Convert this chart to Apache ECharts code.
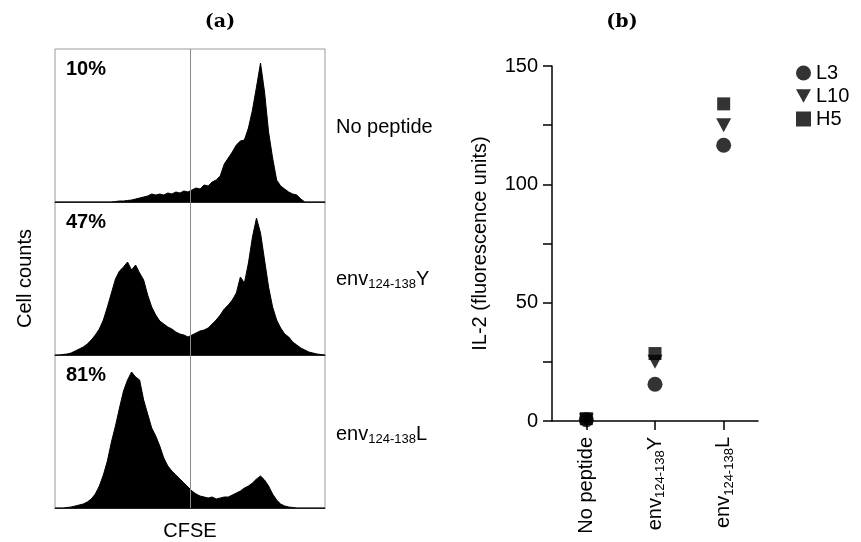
<!DOCTYPE html>
<html>
<head>
<meta charset="utf-8">
<script src="https://cdn.jsdelivr.net/npm/echarts@6/dist/echarts.min.js"></script>
<style>
  html, body { margin: 0; padding: 0; background: #fff; }
  #chart { width: 861px; height: 542px; }
</style>
</head>
<body>
<div id="chart"></div>
<script>
// (a) CFSE histograms, 68 bins across the plot, counts in arbitrary units
const noPeptide = [0,0,0,0,0,0,0,0,0,0,0,0,0,0,0,0.5,1,1,1.5,2,3,4,5,6,8,7,8,7,9,8,10,9,11,10,12,14,13,17,16,20,22,26,38,44,50,57,61,62,74,92,115,139,110,70,44,22,16,13,10,8,7,3,0,0,0,0,0,0];
const envY = [0,0,0.5,1,2,4,6,8,11,15,20,26,35,48,62,76,84,88,93,85,90,82,75,60,48,40,34,31,28,26,23,21,20,18,20,22,24,25,27,31,35,40,46,50,55,62,78,72,92,118,137,122,95,68,48,35,27,21,18,13,10,7,5,3,2,1,0.5,0];
const envL = [0,0,0,0.5,1,2,3,4,6,9,14,22,33,47,66,82,100,117,128,136,131,128,108,94,80,72,62,50,42,37,33,29,25,21,17,14,12,11,10,11,9,10,11,11,13,15,17,20,22,25,29,32,28,22,14,8,4,2,1,0.5,0,0,0,0,0,0,0,0];
const histNames = ['No peptide', 'env124-138Y', 'env124-138L'];
const histPct = ['10%', '47%', '81%'];

// (b) IL-2 response
const peptides = ['No peptide', 'env124-138Y', 'env124-138L'];
const l3 = [0.5, 15.5, 116.5];
const l10 = [0.3, 25, 125];
const h5 = [1, 28.5, 134];
const yTicks = [0, 50, 100, 150];

const chart = echarts.init(document.getElementById('chart'));
const font = 'Liberation Sans';

function richLabel(s) {
  if (s.indexOf('env') === 0) {
    return '{b|env}{s|124-138}{b|' + s.slice(-1) + '}';
  }
  return '{b|' + s + '}';
}
const rich = {
  b: { fontSize: 20, lineHeight: 24, color: '#000', fontFamily: font },
  s: { fontSize: 13, lineHeight: 13, verticalAlign: 'bottom', color: '#000', fontFamily: font }
};

const histData = [noPeptide, envY, envL];
const grids = [];
const xAxes = [];
const yAxes = [];
const series = [];
histData.forEach((arr, i) => {
  grids.push({ left: 55, top: 49 + i * 153, width: 270, height: 153, show: true, borderColor: '#9a9a9a', borderWidth: 1 });
  xAxes.push({
    type: 'value', gridIndex: i, min: 0, max: arr.length - 1,
    axisLine: { show: true, lineStyle: { color: '#222', width: 1 } },
    axisTick: { show: false }, axisLabel: { show: false }, splitLine: { show: false },
    name: i === 2 ? 'CFSE' : '', nameLocation: 'middle', nameGap: 13,
    nameTextStyle: { fontSize: 20, color: '#000', fontFamily: font }
  });
  yAxes.push({
    type: 'value', gridIndex: i, min: 0, max: 153,
    axisLine: { show: false }, axisTick: { show: false }, axisLabel: { show: false }, splitLine: { show: false },
    name: i === 1 ? 'Cell counts' : '', nameLocation: 'middle', nameGap: 20,
    nameTextStyle: { fontSize: 20, color: '#000', fontFamily: font }
  });
  series.push({
    type: 'line', xAxisIndex: i, yAxisIndex: i,
    data: arr.map((v, k) => [k, v]),
    symbol: 'none',
    lineStyle: { color: '#000', width: 1 },
    areaStyle: { color: '#000', opacity: 1 },
    markLine: {
      silent: true, symbol: ['none', 'none'], label: { show: false },
      lineStyle: { color: '#8a8a8a', type: 'solid', width: 1 },
      data: [{ xAxis: (arr.length - 1) / 2 }]
    }
  });
});

grids.push({ left: 552, top: 66, width: 206, height: 355 });
xAxes.push({
  type: 'category', gridIndex: 3, data: peptides,
  axisLine: { show: true, lineStyle: { color: '#000', width: 1.5 } },
  axisTick: { show: true, alignWithLabel: true, length: 9, lineStyle: { color: '#000', width: 1.5 } },
  axisLabel: { rotate: 90, margin: 16, formatter: richLabel, rich: rich }
});
yAxes.push({
  type: 'value', gridIndex: 3, min: 0, max: 150, interval: 25,
  axisLine: { show: true, lineStyle: { color: '#000', width: 1.5 } },
  axisTick: { show: true, length: 9, lineStyle: { color: '#000', width: 1.5 } },
  axisLabel: {
    fontSize: 20, color: '#000', fontFamily: font, margin: 14,
    formatter: v => (yTicks.indexOf(v) >= 0 ? String(v) : '')
  },
  splitLine: { show: false },
  name: 'IL-2 (fluorescence units)', nameLocation: 'middle', nameGap: 62,
  nameTextStyle: { fontSize: 20, color: '#000', fontFamily: font }
});

const triDown = 'path://M0,0 L10,0 L5,9 Z';
series.push(
  { name: 'L3', type: 'scatter', xAxisIndex: 3, yAxisIndex: 3, data: l3, symbol: 'circle', symbolSize: 15, itemStyle: { color: '#000' } },
  { name: 'L10', type: 'scatter', xAxisIndex: 3, yAxisIndex: 3, data: l10, symbol: triDown, symbolSize: [15, 14], itemStyle: { color: '#000' } },
  { name: 'H5', type: 'scatter', xAxisIndex: 3, yAxisIndex: 3, data: h5, symbol: 'rect', symbolSize: 13, itemStyle: { color: '#000' } }
);

const graphics = [
  { type: 'text', x: 220, y: 22, style: { text: '(a)', font: 'bold 19px "DejaVu Serif"', fill: '#000', textAlign: 'center', textVerticalAlign: 'middle' } },
  { type: 'text', x: 622, y: 22, style: { text: '(b)', font: 'bold 19px "DejaVu Serif"', fill: '#000', textAlign: 'center', textVerticalAlign: 'middle' } }
];
const labelY = [127, 279, 434];
const pctY = [69, 222, 375];
histNames.forEach((n, i) => {
  graphics.push({ type: 'text', x: 336, y: labelY[i], style: { text: richLabel(n), rich: rich, fill: '#000', textAlign: 'left', textVerticalAlign: 'middle' } });
  graphics.push({ type: 'text', x: 66, y: pctY[i], style: { text: histPct[i], font: 'bold 20px "Liberation Sans"', fill: '#000', textAlign: 'left', textVerticalAlign: 'middle' } });
});

chart.setOption({
  animation: false,
  textStyle: { fontFamily: font },
  grid: grids,
  xAxis: xAxes,
  yAxis: yAxes,
  legend: {
    orient: 'vertical', left: 796, top: 63, itemGap: 3, itemWidth: 15, itemHeight: 15, padding: 0,
    textStyle: { fontSize: 20, color: '#000', fontFamily: font },
    data: [
      { name: 'L3', icon: 'circle' },
      { name: 'L10', icon: triDown },
      { name: 'H5', icon: 'rect' }
    ]
  },
  graphic: graphics,
  series: series
});
</script>
</body>
</html>
